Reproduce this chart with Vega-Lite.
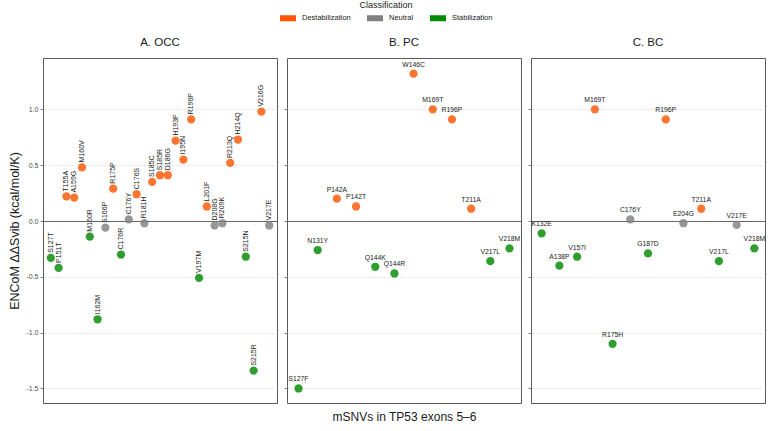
{
  "$schema": "https://vega.github.io/schema/vega-lite/v6.json",
  "background": "white",
  "padding": {"left": 8, "top": 1, "right": 4, "bottom": 6},
  "datasets": {
    "mutations": [
      {"panel": "A. OCC", "mutation": "S127T", "ddS": -0.33, "class": "Stabilization"},
      {"panel": "A. OCC", "mutation": "P151T", "ddS": -0.42, "class": "Stabilization"},
      {"panel": "A. OCC", "mutation": "T155A", "ddS": 0.22, "class": "Destabilization"},
      {"panel": "A. OCC", "mutation": "A159G", "ddS": 0.21, "class": "Destabilization"},
      {"panel": "A. OCC", "mutation": "M160V", "ddS": 0.48, "class": "Destabilization"},
      {"panel": "A. OCC", "mutation": "M160R", "ddS": -0.14, "class": "Stabilization"},
      {"panel": "A. OCC", "mutation": "I162M", "ddS": -0.88, "class": "Stabilization"},
      {"panel": "A. OCC", "mutation": "S166P", "ddS": -0.06, "class": "Neutral"},
      {"panel": "A. OCC", "mutation": "R175P", "ddS": 0.29, "class": "Destabilization"},
      {"panel": "A. OCC", "mutation": "C176R", "ddS": -0.30, "class": "Stabilization"},
      {"panel": "A. OCC", "mutation": "C176Y", "ddS": 0.015, "class": "Neutral"},
      {"panel": "A. OCC", "mutation": "C176S", "ddS": 0.24, "class": "Destabilization"},
      {"panel": "A. OCC", "mutation": "R181H", "ddS": -0.02, "class": "Neutral"},
      {"panel": "A. OCC", "mutation": "S185C", "ddS": 0.35, "class": "Destabilization"},
      {"panel": "A. OCC", "mutation": "S185R", "ddS": 0.41, "class": "Destabilization"},
      {"panel": "A. OCC", "mutation": "D186G", "ddS": 0.41, "class": "Destabilization"},
      {"panel": "A. OCC", "mutation": "H193P", "ddS": 0.72, "class": "Destabilization"},
      {"panel": "A. OCC", "mutation": "I195N", "ddS": 0.55, "class": "Destabilization"},
      {"panel": "A. OCC", "mutation": "R196P", "ddS": 0.91, "class": "Destabilization"},
      {"panel": "A. OCC", "mutation": "V197M", "ddS": -0.51, "class": "Stabilization"},
      {"panel": "A. OCC", "mutation": "L201F", "ddS": 0.13, "class": "Destabilization"},
      {"panel": "A. OCC", "mutation": "D208G", "ddS": -0.04, "class": "Neutral"},
      {"panel": "A. OCC", "mutation": "R209K", "ddS": -0.02, "class": "Neutral"},
      {"panel": "A. OCC", "mutation": "R213Q", "ddS": 0.52, "class": "Destabilization"},
      {"panel": "A. OCC", "mutation": "H214Q", "ddS": 0.73, "class": "Destabilization"},
      {"panel": "A. OCC", "mutation": "S215N", "ddS": -0.32, "class": "Stabilization"},
      {"panel": "A. OCC", "mutation": "S215R", "ddS": -1.34, "class": "Stabilization"},
      {"panel": "A. OCC", "mutation": "V216G", "ddS": 0.98, "class": "Destabilization"},
      {"panel": "A. OCC", "mutation": "V217E", "ddS": -0.04, "class": "Neutral"},

      {"panel": "B. PC", "mutation": "S127F", "ddS": -1.50, "class": "Stabilization"},
      {"panel": "B. PC", "mutation": "N131Y", "ddS": -0.26, "class": "Stabilization"},
      {"panel": "B. PC", "mutation": "P142A", "ddS": 0.20, "class": "Destabilization"},
      {"panel": "B. PC", "mutation": "P142T", "ddS": 0.13, "class": "Destabilization"},
      {"panel": "B. PC", "mutation": "Q144K", "ddS": -0.41, "class": "Stabilization"},
      {"panel": "B. PC", "mutation": "Q144R", "ddS": -0.47, "class": "Stabilization"},
      {"panel": "B. PC", "mutation": "W146C", "ddS": 1.32, "class": "Destabilization"},
      {"panel": "B. PC", "mutation": "M169T", "ddS": 1.00, "class": "Destabilization"},
      {"panel": "B. PC", "mutation": "R196P", "ddS": 0.91, "class": "Destabilization"},
      {"panel": "B. PC", "mutation": "T211A", "ddS": 0.11, "class": "Destabilization"},
      {"panel": "B. PC", "mutation": "V217L", "ddS": -0.36, "class": "Stabilization"},
      {"panel": "B. PC", "mutation": "V218M", "ddS": -0.245, "class": "Stabilization"},

      {"panel": "C. BC", "mutation": "K132E", "ddS": -0.11, "class": "Stabilization"},
      {"panel": "C. BC", "mutation": "A138P", "ddS": -0.40, "class": "Stabilization"},
      {"panel": "C. BC", "mutation": "V157I", "ddS": -0.32, "class": "Stabilization"},
      {"panel": "C. BC", "mutation": "M169T", "ddS": 1.00, "class": "Destabilization"},
      {"panel": "C. BC", "mutation": "R175H", "ddS": -1.10, "class": "Stabilization"},
      {"panel": "C. BC", "mutation": "C176Y", "ddS": 0.015, "class": "Neutral"},
      {"panel": "C. BC", "mutation": "G187D", "ddS": -0.29, "class": "Stabilization"},
      {"panel": "C. BC", "mutation": "R196P", "ddS": 0.91, "class": "Destabilization"},
      {"panel": "C. BC", "mutation": "E204G", "ddS": -0.02, "class": "Neutral"},
      {"panel": "C. BC", "mutation": "T211A", "ddS": 0.11, "class": "Destabilization"},
      {"panel": "C. BC", "mutation": "V217L", "ddS": -0.36, "class": "Stabilization"},
      {"panel": "C. BC", "mutation": "V217E", "ddS": -0.035, "class": "Neutral"},
      {"panel": "C. BC", "mutation": "V218M", "ddS": -0.245, "class": "Stabilization"}
    ]
  },
  "data": {"name": "mutations"},
  "spacing": 5,
  "resolve": {"scale": {"x": "independent", "y": "shared", "color": "shared"}},
  "hconcat": [
    {
      "title": "A. OCC",
      "width": 234,
      "height": 345,
      "transform": [{"filter": "datum.panel === 'A. OCC'"}],
      "encoding": {
        "x": {"field": "mutation", "type": "nominal", "sort": null,
              "scale": {"type": "point", "padding": 1.4},
              "axis": {"title": null, "labels": false, "ticks": false, "domain": false, "grid": false}},
        "y": {"field": "ddS", "type": "quantitative",
              "scale": {"domain": [-1.63, 1.46], "nice": false, "zero": false},
              "axis": {"title": "ENCoM ΔΔSvib (kcal/mol/K)", "values": [-1.5, -1, -0.5, 0, 0.5, 1],
                       "labelExpr": "replace(format(datum.value, '.1f'), '\u2212', '-')",
                       "titlePadding": 4,
                       "gridDash": {"condition": {"test": "datum.value === 0", "value": []}, "value": [2, 2]},
                       "gridColor": {"condition": {"test": "datum.value === 0", "value": "#666666"}, "value": "#d4d4d4"},
                       "gridWidth": {"condition": {"test": "datum.value === 0", "value": 1}, "value": 0.7}}}
      },
      "layer": [
        {"mark": {"type": "circle", "size": 68, "opacity": 0.82},
         "encoding": {"color": {"field": "class", "type": "nominal", "title": "Classification",
                                "scale": {"domain": ["Destabilization", "Neutral", "Stabilization"],
                                          "range": ["#FF5500", "#808080", "#008A00"]}}}},
        {"mark": {"type": "text", "angle": 270, "align": "left", "baseline": "middle", "dx": 5,
                  "fontSize": 7, "color": "#222222", "font": "Liberation Sans"},
         "encoding": {"text": {"field": "mutation"}}}
      ]
    },
    {
      "title": "B. PC",
      "width": 234,
      "height": 345,
      "transform": [{"filter": "datum.panel === 'B. PC'"}],
      "encoding": {
        "x": {"field": "mutation", "type": "nominal", "sort": null,
              "scale": {"type": "point", "padding": 0.6},
              "axis": {"title": "mSNVs in TP53 exons 5–6", "labels": false, "ticks": false, "domain": false, "grid": false,
                       "titleFontSize": 12, "titlePadding": 8}},
        "y": {"field": "ddS", "type": "quantitative",
              "scale": {"domain": [-1.63, 1.46], "nice": false, "zero": false},
              "axis": {"title": null, "labels": false, "values": [-1.5, -1, -0.5, 0, 0.5, 1],
                       "gridDash": {"condition": {"test": "datum.value === 0", "value": []}, "value": [2, 2]},
                       "gridColor": {"condition": {"test": "datum.value === 0", "value": "#666666"}, "value": "#d4d4d4"},
                       "gridWidth": {"condition": {"test": "datum.value === 0", "value": 1}, "value": 0.7}}}
      },
      "layer": [
        {"mark": {"type": "circle", "size": 68, "opacity": 0.82},
         "encoding": {"color": {"field": "class", "type": "nominal", "title": "Classification"}}},
        {"mark": {"type": "text", "align": "center", "baseline": "bottom", "dy": -6,
                  "fontSize": 6.8, "color": "#222222", "font": "Liberation Sans"},
         "encoding": {"text": {"field": "mutation"}}}
      ]
    },
    {
      "title": "C. BC",
      "width": 234,
      "height": 345,
      "transform": [{"filter": "datum.panel === 'C. BC'"}],
      "encoding": {
        "x": {"field": "mutation", "type": "nominal", "sort": null,
              "scale": {"type": "point", "padding": 0.6},
              "axis": {"title": null, "labels": false, "ticks": false, "domain": false, "grid": false}},
        "y": {"field": "ddS", "type": "quantitative",
              "scale": {"domain": [-1.63, 1.46], "nice": false, "zero": false},
              "axis": {"title": null, "labels": false, "values": [-1.5, -1, -0.5, 0, 0.5, 1],
                       "gridDash": {"condition": {"test": "datum.value === 0", "value": []}, "value": [2, 2]},
                       "gridColor": {"condition": {"test": "datum.value === 0", "value": "#666666"}, "value": "#d4d4d4"},
                       "gridWidth": {"condition": {"test": "datum.value === 0", "value": 1}, "value": 0.7}}}
      },
      "layer": [
        {"mark": {"type": "circle", "size": 68, "opacity": 0.82},
         "encoding": {"color": {"field": "class", "type": "nominal", "title": "Classification"}}},
        {"mark": {"type": "text", "align": "center", "baseline": "bottom", "dy": -6,
                  "fontSize": 6.8, "color": "#222222", "font": "Liberation Sans"},
         "encoding": {"text": {"field": "mutation"}}}
      ]
    }
  ],
  "config": {
    "font": "Liberation Sans",
    "view": {"stroke": "#5a5a5a", "strokeWidth": 1},
    "title": {"fontSize": 11.5, "fontWeight": "normal", "color": "#1a1a1a", "offset": 10, "anchor": "middle"},
    "axis": {
      "labelFontSize": 7, "labelColor": "#4d4d4d", "labelPadding": 2,
      "tickColor": "#5a5a5a", "tickSize": 3, "tickWidth": 0.8,
      "domain": false,
      "titleFontSize": 12.5, "titleFontWeight": "normal", "titleColor": "#1a1a1a"
    },
    "legend": {
      "orient": "none", "legendX": 237, "legendY": -57,
      "direction": "horizontal",
      "titleAnchor": "middle", "titleFontSize": 9, "titleFontWeight": "normal", "titleColor": "#1a1a1a", "titlePadding": 0,
      "labelFontSize": 7.5, "labelColor": "#1a1a1a", "labelOffset": 6,
      "symbolType": "M-1,-0.375L1,-0.375L1,0.375L-1,0.375Z", "symbolSize": 256, "symbolOpacity": 1,
      "symbolStrokeWidth": 0, "columnPadding": 16
    }
  }
}
